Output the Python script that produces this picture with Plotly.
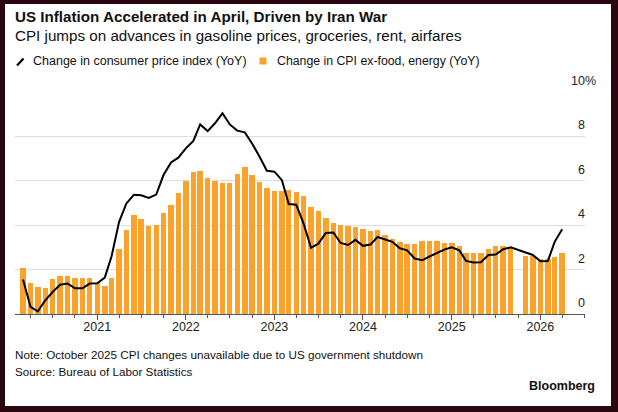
import plotly.graph_objects as go
import pandas as pd

# monthly YoY changes, Mar 2020 .. Apr 2026 (Oct 2025 missing: shutdown)
start_month = "2020-03-01"

cpi_yoy = [1.55, 0.32, 0.12, 0.62, 0.99, 1.32, 1.37, 1.16, 1.16, 1.37,
           1.38, 1.64, 2.60, 4.15, 4.98, 5.37, 5.35, 5.23, 5.38, 6.26, 6.83, 7.04,
           7.46, 7.80, 8.54, 8.24, 8.59, 9.04, 8.54, 8.26, 8.18, 7.68, 7.08, 6.45,
           6.41, 6.03, 4.95, 4.92, 4.08, 2.98, 3.17, 3.65, 3.67, 3.20, 3.11, 3.34,
           3.07, 3.13, 3.47, 3.35, 3.25, 2.96, 2.87, 2.50, 2.42, 2.59, 2.75, 2.90,
           3.00, 2.87, 2.39, 2.32, 2.33, 2.66, 2.68, 2.92, 3.00, None, 2.77, 2.66,
           2.38, 2.39, 3.25, 3.82]

core_yoy = [2.08, 1.41, 1.20, 1.17, 1.56, 1.73, 1.70, 1.61, 1.64, 1.61,
            1.40, 1.28, 1.64, 2.95, 3.77, 4.45, 4.26, 3.97, 4.00, 4.54, 4.92, 5.43,
            6.00, 6.39, 6.45, 6.14, 6.00, 5.89, 5.89, 6.30, 6.60, 6.26, 5.94, 5.68,
            5.56, 5.55, 5.58, 5.49, 5.31, 4.81, 4.63, 4.33, 4.12, 4.00, 3.98, 3.91,
            3.85, 3.73, 3.77, 3.58, 3.40, 3.23, 3.14, 3.17, 3.29, 3.31, 3.29, 3.22,
            3.22, 3.08, 2.77, 2.77, 2.77, 2.92, 3.05, 3.08, 3.02, None, 2.62, 2.62,
            2.48, 2.48, 2.59, 2.74]

year_ticks = ["2021-01-01", "2022-01-01", "2023-01-01", "2024-01-01", "2025-01-01", "2026-01-01"]
year_labels = ["2021", "2022", "2023", "2024", "2025", "2026"]
y_ticks = [0, 2, 4, 6, 8, 10]
y_labels = ["0", "2", "4", "6", "8", "10"]

title = "<b>US Inflation Accelerated in April, Driven by Iran War</b>"
subtitle = "CPI jumps on advances in gasoline prices, groceries, rent, airfares"
legend_names = ["Change in consumer price index (YoY)", "Change in CPI ex-food, energy (YoY)"]
note = "Note: October 2025 CPI changes unavailable due to US government shutdown"
source = "Source: Bureau of Labor Statistics"

months = pd.date_range(start=start_month, periods=len(cpi_yoy), freq="MS")

ORANGE = "#FBA22D"
FRAME = "#2a0611"
FONT = "Liberation Sans, Arial, sans-serif"

W, H = 618, 412
ML, MR, MT, MB = 15, 33, 92, 98
PW, PH = W - ML - MR, H - MT - MB


def px_x(px):
    return (px - ML) / PW


def px_y(py):
    return (H - MB - py) / PH


fig = go.Figure()
fig.add_trace(go.Bar(x=months, y=core_yoy, name=legend_names[1],
                     marker_color=ORANGE, marker_line_width=0,
                     width=22.5 * 86400000))
fig.add_trace(go.Scatter(x=months, y=cpi_yoy, name=legend_names[0], mode="lines",
                         line=dict(color="black", width=2), connectgaps=True))

shapes = [
    # white card on dark frame
    dict(type="rect", xref="paper", yref="paper", layer="below",
         x0=px_x(5), x1=px_x(611), y0=px_y(406), y1=px_y(4),
         fillcolor="white", line_width=0),
    # legend icons
    dict(type="line", xref="paper", yref="paper",
         x0=px_x(17), x1=px_x(23.5), y0=px_y(65.5), y1=px_y(58.5),
         line=dict(color="black", width=2.2)),
    dict(type="rect", xref="paper", yref="paper",
         x0=px_x(259.5), x1=px_x(266.5), y0=px_y(64.5), y1=px_y(57.5),
         fillcolor=ORANGE, line_width=0),
]

ann = [
    dict(text=title, x=px_x(13), y=px_y(17), font=dict(size=15.2, color="#111")),
    dict(text=subtitle, x=px_x(13), y=px_y(36), font=dict(size=15.2, color="#111")),
    dict(text=legend_names[0], x=px_x(31), y=px_y(61), font=dict(size=12.5, color="#111")),
    dict(text=legend_names[1], x=px_x(275), y=px_y(61), font=dict(size=12.3, color="#111")),
    dict(text=note, x=px_x(13), y=px_y(354), font=dict(size=11.7, color="#111")),
    dict(text=source, x=px_x(13), y=px_y(371), font=dict(size=11.7, color="#111")),
    dict(text="<b>Bloomberg</b>", x=px_x(597), y=px_y(386), xanchor="right",
         font=dict(size=12.5, color="#111")),
]
for a in ann:
    a.setdefault("xanchor", "left")
    a.update(xref="paper", yref="paper", yanchor="middle", showarrow=False)

# y labels sit above gridlines at the right edge
for v, lab in zip(y_ticks, y_labels):
    ann.append(dict(text=lab, xref="paper", yref="y", x=1, y=v, xanchor="right",
                    yanchor="bottom", xshift=2, yshift=2, showarrow=False,
                    font=dict(size=12.5, color="#222")))
ann.append(dict(text="%", xref="paper", yref="y", x=1, y=y_ticks[-1], xanchor="left",
                yanchor="bottom", xshift=-2, yshift=2, showarrow=False,
                font=dict(size=12.5, color="#222")))

fig.update_layout(
    width=W, height=H,
    margin=dict(l=ML, r=MR, t=MT, b=MB, pad=0),
    paper_bgcolor=FRAME, plot_bgcolor="rgba(0,0,0,0)",
    font=dict(family=FONT, color="#111"),
    showlegend=False,
    shapes=shapes, annotations=ann,
    bargap=0,
)
fig.update_xaxes(type="date", range=["2020-01-28", "2026-07-04"],
                 tickvals=year_ticks, ticktext=year_labels,
                 ticks="outside", ticklen=5, tickcolor="#555", tickwidth=1,
                 ticklabelstandoff=-4,
                 minor=dict(dtick="M3", tick0="2020-01-01", ticks="outside",
                            ticklen=3, tickcolor="#555", showgrid=False),
                 showline=True, linecolor="#555", linewidth=1,
                 showgrid=False, tickfont=dict(size=12.5, color="#222"))
fig.update_yaxes(range=[0, 10], tickvals=y_ticks, showticklabels=False,
                 showgrid=True, gridcolor="#dedede", gridwidth=1,
                 zeroline=False, fixedrange=True)

fig.write_html("out.html", config={"displayModeBar": False},
               post_script="document.body.style.margin='0';")
